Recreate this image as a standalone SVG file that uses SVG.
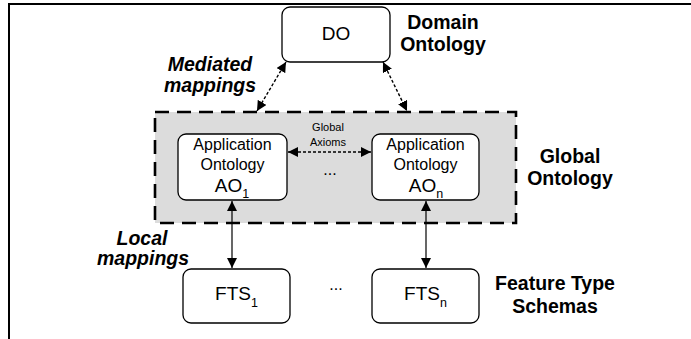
<svg xmlns="http://www.w3.org/2000/svg" width="691" height="339" viewBox="0 0 691 339">
<style>
text{font-family:"Liberation Sans",Arial,sans-serif;fill:#000}
.box{fill:#fff;stroke:#000;stroke-width:1.3}
.lbl{font-weight:bold;font-size:19.5px;text-anchor:middle}
.it{font-style:italic}
.n16{font-size:16px;text-anchor:middle}
.n19{font-size:19px;text-anchor:middle}
.sub{font-size:12.5px}
.dot{fill:none;stroke:#000;stroke-width:1.4;stroke-dasharray:3 2}
.sol{fill:none;stroke:#000;stroke-width:1.2}
</style>
<defs>
<marker id="ah" viewBox="0 0 10 10" refX="10" refY="5" markerWidth="10" markerHeight="10" markerUnits="userSpaceOnUse" orient="auto-start-reverse">
<path d="M0,0 L10,5 L0,10 z" fill="#000"/>
</marker>
</defs>
<g id="frame">
<path d="M9,339 V4 H691" fill="none" stroke="#000" stroke-width="2"/>
</g>
<g id="global-ontology">
<rect x="155" y="112" width="361" height="111" fill="#dcdcdc" stroke="#000" stroke-width="2.6" stroke-dasharray="14 8"/>
<text class="lbl" x="570" y="163">Global</text>
<text class="lbl" x="570" y="185">Ontology</text>
</g>
<g id="do">
<rect class="box" x="282" y="7" width="108" height="55" rx="8"/>
<text class="n19" x="336" y="40">DO</text>
</g>
<g id="domain-label">
<text class="lbl" x="443" y="29">Domain</text>
<text class="lbl" x="443" y="51">Ontology</text>
</g>
<g id="ao1">
<rect class="box" x="178" y="134" width="109" height="66" rx="8"/>
<text class="n16" x="232.5" y="150">Application</text>
<text class="n16" x="232.5" y="170">Ontology</text>
<text class="n19" x="232" y="192">AO<tspan class="sub" dy="6">1</tspan></text>
</g>
<g id="aon">
<rect class="box" x="372" y="134" width="107" height="66" rx="8"/>
<text class="n16" x="425.5" y="150">Application</text>
<text class="n16" x="425.5" y="170">Ontology</text>
<text class="n19" x="426" y="192">AO<tspan class="sub" dy="6">n</tspan></text>
</g>
<g id="fts1">
<rect class="box" x="183" y="269" width="107" height="54" rx="8"/>
<text class="n19" x="236.5" y="300">FTS<tspan class="sub" dy="7">1</tspan></text>
</g>
<g id="ftsn">
<rect class="box" x="372" y="269" width="107" height="54" rx="8"/>
<text class="n19" x="425.5" y="300">FTS<tspan class="sub" dy="7">n</tspan></text>
</g>
<g id="labels">
<text class="lbl it" x="210" y="71">Mediated</text>
<text class="lbl it" x="210" y="92">mappings</text>
<text class="lbl it" x="142" y="245">Local</text>
<text class="lbl it" x="143" y="265">mappings</text>
<text class="lbl" x="555" y="290">Feature Type</text>
<text class="lbl" x="555" y="313">Schemas</text>
<text x="328" y="131" font-size="11" text-anchor="middle">Global</text>
<text x="328" y="146" font-size="11" text-anchor="middle">Axioms</text>
<text x="330" y="175" font-size="16" text-anchor="middle">...</text>
<text x="336" y="290" font-size="16" text-anchor="middle">...</text>
</g>
<g id="connectors">
<line class="dot" x1="286" y1="62" x2="257" y2="111" marker-start="url(#ah)" marker-end="url(#ah)"/>
<line class="dot" x1="383" y1="62" x2="407" y2="111" marker-start="url(#ah)" marker-end="url(#ah)"/>
<line class="dot" x1="288" y1="152" x2="371" y2="152" marker-start="url(#ah)" marker-end="url(#ah)"/>
<line class="sol" x1="232" y1="201" x2="232" y2="268" marker-start="url(#ah)" marker-end="url(#ah)"/>
<line class="sol" x1="426" y1="201" x2="426" y2="268" marker-start="url(#ah)" marker-end="url(#ah)"/>
</g>
</svg>
